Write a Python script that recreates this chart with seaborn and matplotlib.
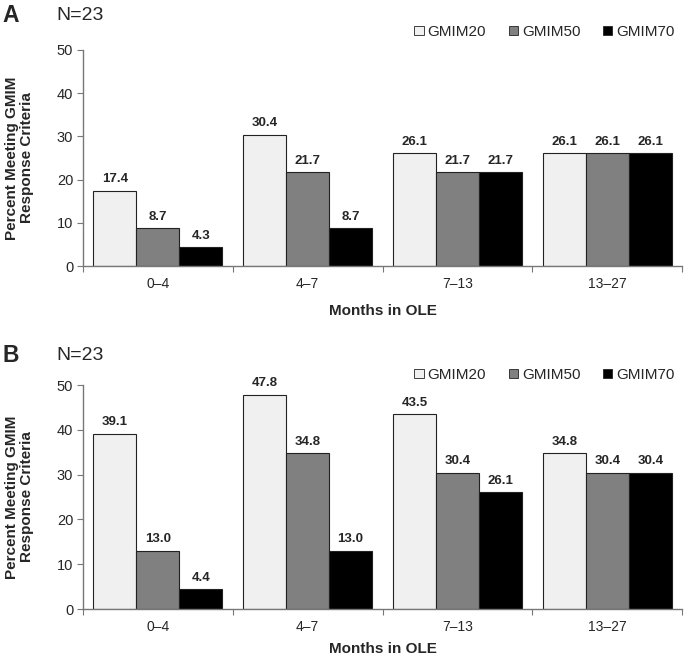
import matplotlib
matplotlib.use("Agg")
import matplotlib.pyplot as plt
import seaborn as sns
import pandas as pd
from matplotlib.patches import Patch

sns.set_theme(style="white")
plt.rcParams['font.family'] = ['Liberation Sans', 'DejaVu Sans']

categories = ["0\u20134", "4\u20137", "7\u201313", "13\u201327"]
series = ["GMIM20", "GMIM50", "GMIM70"]
panel_a_20 = [17.4, 30.4, 26.1, 26.1]
panel_a_50 = [8.7, 21.7, 21.7, 26.1]
panel_a_70 = [4.3, 8.7, 21.7, 26.1]
panel_b_20 = [39.1, 47.8, 43.5, 34.8]
panel_b_50 = [13.0, 34.8, 30.4, 30.4]
panel_b_70 = [4.4, 13.0, 26.1, 30.4]
yticks = [0, 10, 20, 30, 40, 50]
colors = ["#f0f0f0", "#808080", "#000000"]


def make_df(v20, v50, v70):
    rows = []
    for s, vals in zip(series, [v20, v50, v70]):
        for c, v in zip(categories, vals):
            rows.append({"Months": c, "Series": s, "Value": v})
    return pd.DataFrame(rows)


fig = plt.figure(figsize=(6.85, 6.56), dpi=100)
axA = fig.add_axes([0.121, 0.5945, 0.875, 0.3295])
axB = fig.add_axes([0.121, 0.0716, 0.875, 0.3414])

panels = [(axA, make_df(panel_a_20, panel_a_50, panel_a_70), "A", 0.977, 1.083, 9),
          (axB, make_df(panel_b_20, panel_b_50, panel_b_70), "B", 0.458, 1.045, 6)]

for ax, df, letter, ytop, legy, xlpad in panels:
    sns.barplot(data=df, x="Months", y="Value", hue="Series", order=categories,
                hue_order=series, palette=colors, edgecolor="#222222", linewidth=0.8,
                width=0.86, ax=ax, legend=False, errorbar=None)
    for cont in ax.containers:
        ax.bar_label(cont, labels=[f"{b.get_height():.1f}" for b in cont],
                     padding=4, fontsize=9.5, fontweight="bold")
    ax.set_ylim(0, 50)
    ax.set_yticks(yticks)
    ax.set_xlim(-0.5, 3.5)
    ax.set_xticks([-0.5, 0.5, 1.5, 2.5, 3.5])
    ax.set_xticklabels([])
    ax.set_xticks(range(4), minor=True)
    ax.set_xticklabels(categories, minor=True)
    ax.tick_params(axis="x", which="major", length=4, width=0.8, color="#777777", direction="out", bottom=True)
    ax.tick_params(axis="x", which="minor", length=0, labelsize=10, pad=8)
    ax.tick_params(axis="y", length=4, width=0.8, color="#777777", direction="out", left=True, labelsize=10.5, pad=3)
    for s in ["top", "right"]:
        ax.spines[s].set_visible(False)
    for s in ["left", "bottom"]:
        ax.spines[s].set_color("#777777")
        ax.spines[s].set_linewidth(1.0)
    ax.set_xlabel("Months in OLE", fontsize=11, fontweight="bold", labelpad=xlpad)
    ax.set_ylabel("Percent Meeting GMIM\nResponse Criteria", fontsize=11, fontweight="bold",
                  linespacing=1.05)
    ax.yaxis.set_label_coords(-0.082, 0.5)
    fig.text(0.004, ytop, letter, fontsize=16.5, fontweight="bold", va="center")
    fig.text(0.083, ytop, "N=23", fontsize=14, va="center")
    handles = [Patch(facecolor=c, edgecolor="#222222", linewidth=0.6) for c in colors]
    ax.legend(handles, series, loc="center right", bbox_to_anchor=(1.0, legy), ncol=3,
              frameon=False, fontsize=11, handlelength=0.6, handleheight=0.6,
              handletextpad=0.25, columnspacing=1.5, borderaxespad=0.1)

fig.savefig("out.png", dpi=100)
